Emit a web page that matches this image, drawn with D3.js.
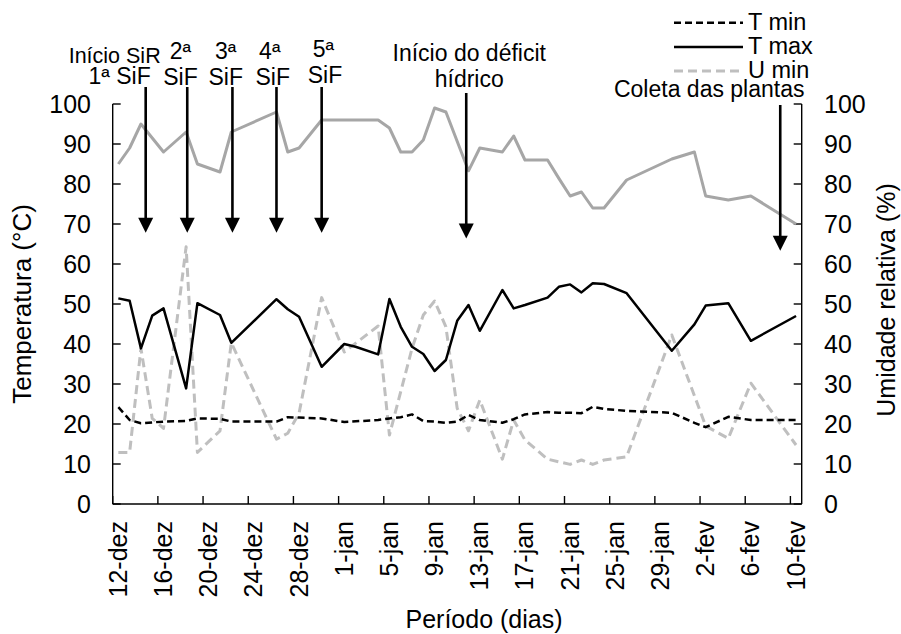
<!DOCTYPE html>
<html>
<head>
<meta charset="utf-8">
<script src="https://cdn.jsdelivr.net/npm/d3@7"></script>
<style>
  html, body { margin: 0; padding: 0; background: #fff; }
  svg { display: block; font-family: "Liberation Sans", Arial, Helvetica, sans-serif; }
</style>
</head>
<body>
<svg id="chart" width="901" height="634"></svg>
<script>
// Measurement days
const datas = [
  "2016-12-12","2016-12-13","2016-12-14","2016-12-15","2016-12-16","2016-12-18","2016-12-19",
  "2016-12-21","2016-12-22","2016-12-26","2016-12-27","2016-12-28","2016-12-30","2017-01-01",
  "2017-01-02","2017-01-04","2017-01-05","2017-01-06","2017-01-07","2017-01-08","2017-01-09",
  "2017-01-10","2017-01-11","2017-01-12","2017-01-13","2017-01-15","2017-01-16","2017-01-17",
  "2017-01-19","2017-01-20","2017-01-21","2017-01-22","2017-01-23","2017-01-24","2017-01-26",
  "2017-01-30","2017-02-01","2017-02-02","2017-02-04","2017-02-06","2017-02-10"
];

// Temperature (°C) – null where no reading
const tMin = [24.2,21,20.2,null,20.6,20.75,21.4,21.3,20.6,20.6,21.7,21.6,21.4,20.5,null,21,21.4,21.7,22.4,20.75,
  20.6,20.3,20.6,22.25,21,20.3,21.2,22.4,23,22.8,22.8,22.7,24.3,23.75,23.3,22.8,20.3,19.2,21.8,21,21];
const tMax = [51.4,50.8,38.9,47.1,48.9,28.9,50.2,47.25,40.3,51.2,48.7,46.8,34.3,40,39.3,37.4,51.25,44.3,39.3,37.5,
  33.25,36,45.8,49.75,43.3,53.5,48.9,49.75,51.6,54.3,54.9,52.9,55.2,55,52.7,38.3,44.9,49.6,50.2,40.8,47];

// Relative humidity (%)
const uMin = [12.9,12.9,38.9,21.4,18.9,64.3,12.9,18.3,40.3,16.2,17.7,22.7,51.6,38,null,44.5,17.25,null,38.9,47.25,
  50.75,44.3,23.9,18.3,26,11.2,21,16,11.2,null,9.9,11,9.9,11,11.8,42.25,null,19.5,16.4,30.2,14.75];
const uMax = [85,89,95,null,88,93,85,83,93,98,88,89,96,96,96,96,94,88,88,91,
  99,98,null,83.3,89,88,92,86,86,81.4,77,78,74,74,81,86.25,88,77,76,77,70];

// Axis ticks
const rotulosX = ["12-dez","16-dez","20-dez","24-dez","28-dez","1-jan","5-jan","9-jan","13-jan","17-jan",
  "21-jan","25-jan","29-jan","2-fev","6-fev","10-fev"];
const ticksY = [0,10,20,30,40,50,60,70,80,90,100];

// Field events (days after 12-dez)
const diasEventos = [2.92, 6.6, 10.6, 14.5, 18.5, 31.3, 59.1];

const DIA = 864e5;
const inicio = Date.UTC(2016, 11, 12);
const fim = Date.UTC(2017, 1, 11);
const parse = s => { const [a, m, d] = s.split("-").map(Number); return Date.UTC(a, m - 1, d); };

const svg = d3.select("#chart");
const FONT = 25;

const x = d3.scaleUtc().domain([new Date(inicio), new Date(fim)]).range([112.7, 801.7]);
const y = d3.scaleLinear().domain([0, 100]).range([504, 104]);
const yDir = d3.scaleLinear().domain([0, 100]).range([504, 104]);

// Each reading is centred inside its day
const xDia = t => x(new Date(t + DIA / 2));

function serie(vals) {
  return datas.map((d, i) => ({ t: parse(d), v: vals[i] })).filter(p => p.v != null);
}

// ---- Axes ----
const tickDates = rotulosX.map((_, i) => new Date(inicio + i * 4 * DIA));

const gx = svg.append("g").attr("transform", "translate(0,504)");
gx.append("line").attr("x1", 112.7).attr("x2", 801.7).attr("y1", 0).attr("y2", 0)
  .attr("stroke", "#000").attr("stroke-width", 1.4);
gx.selectAll("line.tk").data(tickDates).join("line").attr("class", "tk")
  .attr("x1", d => x(d)).attr("x2", d => x(d)).attr("y1", 0).attr("y2", -8)
  .attr("stroke", "#000").attr("stroke-width", 1.4);
gx.selectAll("text").data(rotulosX).join("text")
  .attr("transform", (d, i) => `translate(${xDia(tickDates[i].getTime()) + 8.5},17) rotate(-90)`)
  .attr("text-anchor", "end")
  .attr("font-size", FONT)
  .attr("fill", "#000")
  .text(d => d);

const gyL = svg.append("g");
gyL.append("line").attr("x1", 112.7).attr("x2", 112.7).attr("y1", 104).attr("y2", 504)
  .attr("stroke", "#000").attr("stroke-width", 1.4);
gyL.selectAll("line.tk").data(ticksY).join("line").attr("class", "tk")
  .attr("x1", 112.7).attr("x2", 120.7).attr("y1", d => y(d)).attr("y2", d => y(d))
  .attr("stroke", "#000").attr("stroke-width", 1.4);
gyL.selectAll("text").data(ticksY).join("text")
  .attr("x", 91).attr("y", d => y(d) + 9)
  .attr("text-anchor", "end").attr("font-size", FONT).text(d => d);

const gyR = svg.append("g");
gyR.append("line").attr("x1", 801.7).attr("x2", 801.7).attr("y1", 104).attr("y2", 504)
  .attr("stroke", "#000").attr("stroke-width", 1.4);
gyR.selectAll("line.tk").data(ticksY).join("line").attr("class", "tk")
  .attr("x1", 793.7).attr("x2", 801.7).attr("y1", d => yDir(d)).attr("y2", d => yDir(d))
  .attr("stroke", "#000").attr("stroke-width", 1.4);
gyR.selectAll("text").data(ticksY).join("text")
  .attr("x", 824).attr("y", d => yDir(d) + 9)
  .attr("text-anchor", "start").attr("font-size", FONT).text(d => d);

// Axis titles
svg.append("text").attr("transform", "translate(31,304) rotate(-90)")
  .attr("text-anchor", "middle").attr("font-size", 26).text("Temperatura (°C)");
svg.append("text").attr("transform", "translate(895,300) rotate(-90)")
  .attr("text-anchor", "middle").attr("font-size", FONT).text("Umidade relativa (%)");
svg.append("text").attr("x", 484).attr("y", 628)
  .attr("text-anchor", "middle").attr("font-size", FONT).text("Período (dias)");

// ---- Series ----
const linhaT = d3.line().x(p => xDia(p.t)).y(p => y(p.v));
const linhaU = d3.line().x(p => xDia(p.t)).y(p => yDir(p.v));

svg.append("path").datum(serie(uMax)).attr("d", linhaU)
  .attr("fill", "none").attr("stroke", "#a6a6a6").attr("stroke-width", 3).attr("stroke-linejoin", "round");
svg.append("path").datum(serie(uMin)).attr("d", linhaU)
  .attr("fill", "none").attr("stroke", "#bfbfbf").attr("stroke-width", 3)
  .attr("stroke-dasharray", "9,5").attr("stroke-linejoin", "round");
svg.append("path").datum(serie(tMin)).attr("d", linhaT)
  .attr("fill", "none").attr("stroke", "#000").attr("stroke-width", 2.5)
  .attr("stroke-dasharray", "7,4").attr("stroke-linejoin", "round");
svg.append("path").datum(serie(tMax)).attr("d", linhaT)
  .attr("fill", "none").attr("stroke", "#000").attr("stroke-width", 2.5).attr("stroke-linejoin", "round");

// ---- Event arrows and labels ----
const eventos = [
  { topo: 87, ponta: 67.8, textos: [["Início SiR", -31, 63, 21.5], ["1ª SiF", -26, 84]] },
  { topo: 87, ponta: 67.8, textos: [["2ª", -6.8, 58.5], ["SiF", -6.8, 85]] },
  { topo: 87, ponta: 67.8, textos: [["3ª", -6.7, 58.5], ["SiF", -6.7, 85]] },
  { topo: 87, ponta: 67.8, textos: [["4ª", -6.7, 58.5], ["SiF", -3.7, 85]] },
  { topo: 87, ponta: 67.8, textos: [["5ª", 1.8, 56.7], ["SiF", 3.3, 82.7]] },
  { topo: 93, ponta: 66.4, textos: [["Início do déficit", 3, 61], ["hídrico", 3, 87]] },
  { topo: 105, ponta: 63.3, textos: [["Coleta das plantas", -71, 97]] }
];

const gEv = svg.append("g");
eventos.forEach((ev, i) => {
  const ax = x(new Date(inicio + diasEventos[i] * DIA));
  const tip = y(ev.ponta);
  gEv.append("line").attr("x1", ax).attr("x2", ax).attr("y1", ev.topo).attr("y2", tip - 12)
    .attr("stroke", "#000").attr("stroke-width", 2.6);
  gEv.append("path")
    .attr("d", `M${ax - 7.5},${tip - 15}L${ax + 7.5},${tip - 15}L${ax},${tip}Z`)
    .attr("fill", "#000");
  ev.textos.forEach(([txt, dx, by, fs]) => {
    gEv.append("text").attr("x", ax + dx).attr("y", by)
      .attr("text-anchor", "middle").attr("font-size", fs || 23).text(txt);
  });
});

// ---- Legend ----
const legenda = [
  { nome: "T min", cor: "#000", dash: "7,4", w: 2.5 },
  { nome: "T max", cor: "#000", dash: null, w: 2.5 },
  { nome: "U min", cor: "#bfbfbf", dash: "9,5", w: 3 }
];
const gLeg = svg.append("g");
legenda.forEach((l, i) => {
  const ly = 22.7 + i * 24.2;
  gLeg.append("line").attr("x1", 674).attr("x2", 743).attr("y1", ly).attr("y2", ly)
    .attr("stroke", l.cor).attr("stroke-width", l.w).attr("stroke-dasharray", l.dash);
  gLeg.append("text").attr("x", 748).attr("y", ly + 7).attr("font-size", 23.5).text(l.nome);
});
</script>
</body>
</html>
